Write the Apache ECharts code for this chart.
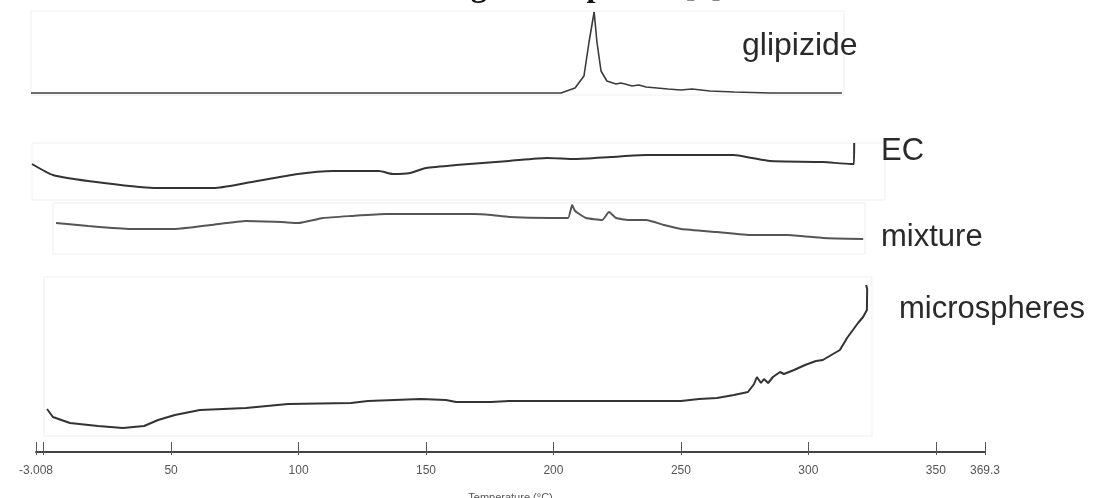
<!DOCTYPE html>
<html>
<head>
<meta charset="utf-8">
<script src="https://cdn.jsdelivr.net/npm/echarts@6/dist/echarts.min.js"></script>
<style>
  html, body { margin: 0; padding: 0; background: #fff; }
  #grafica { width: 1097px; height: 498px; }
</style>
</head>
<body>
<div id="grafica"></div>
<script>
// temperature (°C) and relative heat-flow signal
const glipizideT = [-5.1, 100.5, 203.0, 208.5, 212.0, 214.0, 216.0, 217.1, 218.7, 221.0, 224.6, 226.5, 228.1, 230.9, 233.5, 236.4, 240.7, 245.0, 250.1, 254.4, 261.5, 270.9, 285.0, 313.3];
const glipizideV = [2, 2, 2, 7, 19, 53, 83, 53, 24, 14, 11, 12, 11, 9, 10, 8, 7, 6, 5, 6, 4, 3, 2, 2];

const ecT = [-4.7, 3.5, 17.3, 43.2, 66.7, 79.3, 99.7, 113.5, 131.5, 137.0, 143.7, 150.0, 161.8, 182.6, 197.5, 208.5, 222.6, 236.4, 246.2, 270.9, 278.0, 285.0, 305.9, 316.8, 318.0, 318.1];
const ecV = [36, 25, 19, 12, 12, 17, 26, 29, 29, 26, 27, 32, 35, 39, 42, 41, 43, 45, 45, 45, 42, 39, 38, 36, 36, 57];

const mixtureT = [4.7, 17.3, 33.8, 51.4, 65.6, 79.3, 93.1, 99.7, 109.5, 120.5, 134.3, 148.0, 168.8, 175.5, 182.6, 198.7, 205.7, 207.3, 208.5, 212.8, 219.1, 221.8, 224.6, 229.3, 236.4, 243.4, 250.1, 264.2, 278.0, 291.7, 305.9, 321.6];
const mixtureV = [31, 28, 25, 25, 29, 33, 32, 31, 36, 38, 40, 40, 40, 39, 37, 36, 36, 49, 43, 36, 34, 42, 36, 34, 34, 29, 25, 22, 19, 19, 16, 15];

const microT = [1.2, 3.5, 10.2, 21.2, 31.0, 39.3, 44.8, 51.4, 61.2, 79.3, 95.8, 120.5, 127.2, 148.0, 157.8, 161.8, 175.5, 182.6, 198.7, 222.6, 250.1, 257.2, 264.2, 270.9, 276.4, 278.8, 279.9, 281.5, 282.7, 284.3, 286.2, 289.0, 290.5, 294.5, 298.8, 303.1, 305.8, 309.8, 312.5, 315.3, 317.6, 319.6, 321.6, 323.1, 323.2, 322.8];
const microV = [27, 19, 13, 10, 8, 10, 16, 21, 26, 28, 32, 33, 35, 37, 36, 34, 34, 35, 35, 35, 35, 37, 38, 41, 44, 52, 59, 53, 57, 53, 59, 64, 62, 66, 71, 75, 76, 82, 86, 98, 106, 113, 119, 126, 147, 151];

const tickValues = [-3.008, 0, 50, 100, 150, 200, 250, 300, 350, 369.3];
const labelValues = [-3.008, 50, 100, 150, 200, 250, 300, 350, 369.3];
const sampleNames = ["glipizide", "EC", "mixture", "microspheres"];

function pares(t, v) {
  return t.map(function (x, i) { return [x, v[i]]; });
}

var dom = document.getElementById('grafica');
var myChart = echarts.init(dom, null, { renderer: 'canvas' });

var panelBox = { show: true, borderColor: '#efefef', borderWidth: 1, outerBoundsMode: 'none' };
var labelFont = '"Liberation Sans", Arial, sans-serif';

var option = {
  backgroundColor: '#fff',
  animation: false,
  grid: [
    Object.assign({ left: 31, top: 11, width: 813, height: 84 }, panelBox),
    Object.assign({ left: 32, top: 143, width: 853, height: 57 }, panelBox),
    Object.assign({ left: 53, top: 203, width: 812, height: 51 }, panelBox),
    Object.assign({ left: 44, top: 277, width: 828, height: 159 }, panelBox),
    { left: 36, top: 400, width: 949, height: 52, show: false, outerBoundsMode: 'none' }
  ],
  xAxis: [
    { gridIndex: 0, type: 'value', min: -5.1, max: 314.1, show: false },
    { gridIndex: 1, type: 'value', min: -4.7, max: 330.2, show: false },
    { gridIndex: 2, type: 'value', min: 3.5, max: 322.3, show: false },
    { gridIndex: 3, type: 'value', min: 0, max: 325.1, show: false },
    {
      gridIndex: 4, type: 'value', position: 'bottom', min: -3.008, max: 369.3,
      name: 'Temperature (°C)', nameLocation: 'middle', nameGap: 40,
      nameTextStyle: { fontFamily: labelFont, fontSize: 11, color: '#555' },
      axisLine: { lineStyle: { color: '#444', width: 2 } },
      axisTick: { inside: true, length: 10, customValues: tickValues, lineStyle: { color: '#555', width: 1 } },
      axisLabel: {
        customValues: labelValues, margin: 13, color: '#555',
        fontFamily: labelFont, fontSize: 12,
        formatter: function (v) { return String(v); }
      },
      splitLine: { show: false }
    },
    {
      // short part of each tick below the line
      gridIndex: 4, type: 'value', position: 'bottom', offset: 0, min: -3.008, max: 369.3,
      axisLine: { show: false },
      axisTick: { inside: false, length: 3, customValues: tickValues, lineStyle: { color: '#555', width: 1 } },
      axisLabel: { show: false },
      splitLine: { show: false }
    }
  ],
  yAxis: [
    { gridIndex: 0, type: 'value', min: 0, max: 84, show: false },
    { gridIndex: 1, type: 'value', min: 0, max: 57, show: false },
    { gridIndex: 2, type: 'value', min: 0, max: 51, show: false },
    { gridIndex: 3, type: 'value', min: 0, max: 159, show: false },
    { gridIndex: 4, type: 'value', min: 0, max: 1, show: false }
  ],
  graphic: [
    { type: 'text', x: 722, y: -28, style: { text: 'floating microspheres [6]', textAlign: 'right', font: 'bold 32px "Liberation Serif", serif', fill: '#111' } },
    { type: 'text', left: 742, top: 30, style: { text: sampleNames[0], font: '32px ' + labelFont, fill: '#2a2a2a' } },
    { type: 'text', left: 881, top: 136, style: { text: sampleNames[1], font: '31px ' + labelFont, fill: '#2a2a2a' } },
    { type: 'text', left: 881, top: 222, style: { text: sampleNames[2], font: '31px ' + labelFont, fill: '#2a2a2a' } },
    { type: 'text', left: 899, top: 294, style: { text: sampleNames[3], font: '31px ' + labelFont, fill: '#2a2a2a' } }
  ],
  series: [
    { name: sampleNames[0], type: 'line', xAxisIndex: 0, yAxisIndex: 0, symbol: 'none', data: pares(glipizideT, glipizideV), lineStyle: { color: '#3c3c3c', width: 1.6 } },
    { name: sampleNames[1], type: 'line', xAxisIndex: 1, yAxisIndex: 1, symbol: 'none', smooth: 0.2, data: pares(ecT, ecV), lineStyle: { color: '#333', width: 2 } },
    { name: sampleNames[2], type: 'line', xAxisIndex: 2, yAxisIndex: 2, symbol: 'none', smooth: 0.15, data: pares(mixtureT, mixtureV), lineStyle: { color: '#555', width: 2 } },
    { name: sampleNames[3], type: 'line', xAxisIndex: 3, yAxisIndex: 3, symbol: 'none', data: pares(microT, microV), lineStyle: { color: '#333', width: 2 } }
  ]
};

myChart.setOption(option);
window.addEventListener('resize', myChart.resize);
</script>
</body>
</html>
